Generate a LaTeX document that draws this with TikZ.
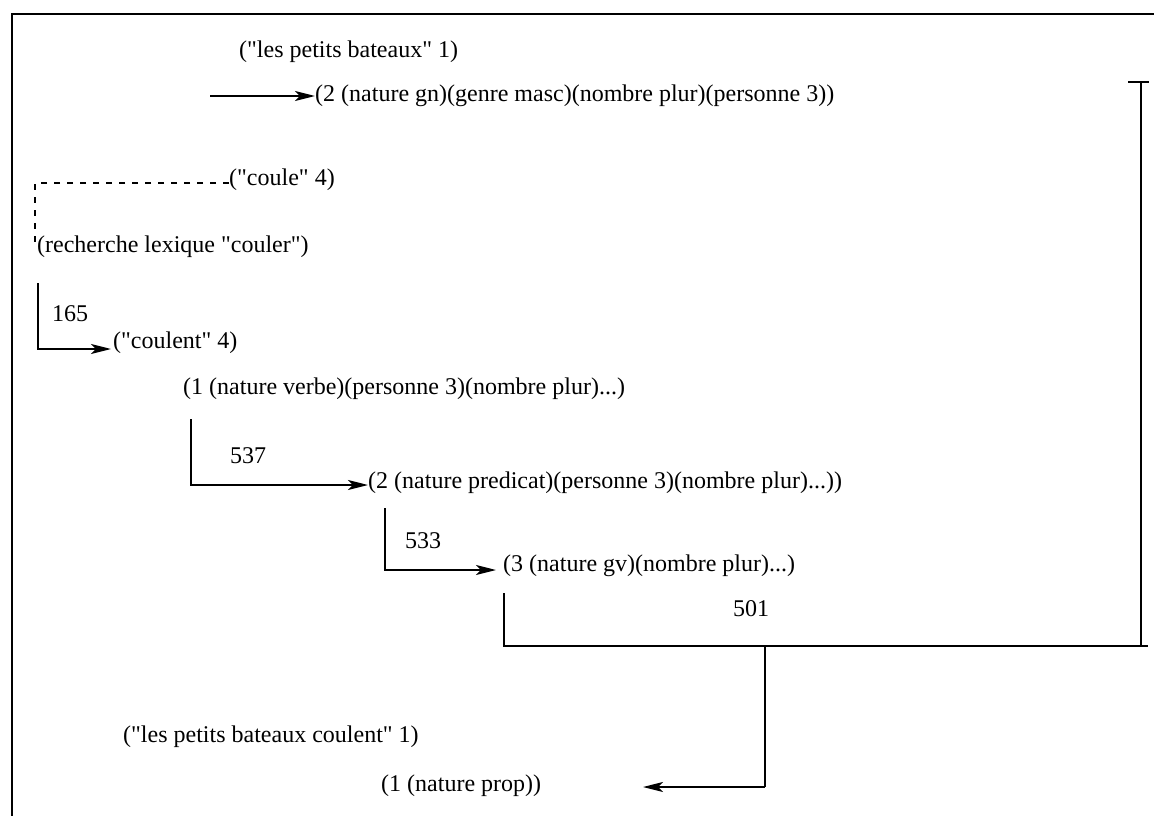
\documentclass[tikz,border=0pt]{standalone}
\usepackage{fontspec}
\setmainfont{Liberation Serif}[Ligatures=TeXOff]
\usetikzlibrary{arrows.meta}
\newcommand{\qq}{\symbol{34}}
\begin{document}
\begin{tikzpicture}[x=1pt,y=-1pt,
  txt/.style={anchor=west,inner sep=0pt,font=\fontsize{24}{28}\selectfont},
  conn/.style={line width=2pt},
  arr/.style={conn,-{Stealth[length=20pt,width=10pt,inset=5pt]}},
  frame/.style={line width=2.5pt}]
\useasboundingbox (0,0) rectangle (1154,816);
% frame
\draw[frame] (12,816) -- (12,14) -- (1154,14);
% text nodes
\node[txt] (t1) at (239,52) {(\qq les petits bateaux\qq{} 1)};
\node[txt] (t2) at (315,96) {(2 (nature gn)(genre masc)(nombre plur)(personne 3))};
\node[txt] (t3) at (229,180) {(\qq coule\qq{} 4)};
\node[txt] (t4) at (37,247) {(recherche lexique \qq couler\qq)};
\node[txt] (n165) at (52,314) {165};
\node[txt] (t5) at (113,343) {(\qq coulent\qq{} 4)};
\node[txt] (t6) at (183,389) {(1 (nature verbe)(personne 3)(nombre plur)...)};
\node[txt] (n537) at (230,456) {537};
\node[txt] (t7) at (368,483) {(2 (nature predicat)(personne 3)(nombre plur)...))};
\node[txt] (n533) at (405,541) {533};
\node[txt] (t8) at (503,566) {(3 (nature gv)(nombre plur)...)};
\node[txt] (n501) at (733,609) {501};
\node[txt] (t9) at (123,737) {(\qq les petits bateaux coulent\qq{} 1)};
\node[txt] (t10) at (381,786) {(1 (nature prop))};
% coordinates
\coordinate (a0) at (210,96);
\coordinate (d1) at (35,183);
\coordinate (d2) at (35,245);
\coordinate (c1) at (38,283);
\coordinate (c1e) at (111,349);
\coordinate (c2) at (191,419);
\coordinate (c2e) at (368,485);
\coordinate (c3) at (385,508);
\coordinate (c3e) at (496,570);
\coordinate (c4) at (504,593);
\coordinate (c4b) at (504,646);
\coordinate (r0) at (1148,646);
\coordinate (b0) at (1141,82);
\coordinate (b1) at (1128,82);
\coordinate (b2) at (1149,82);
\coordinate (m0) at (765,646);
\coordinate (m1) at (765,787);
\coordinate (m2) at (643,787);
% connectors
\draw[arr] (a0) -- (t2.west);
\draw[conn,dash pattern=on 6pt off 7pt] ([yshift=-3pt]t3.west) -- (d1) -- (d2);
\draw[arr] (c1) |- (c1e);
\draw[arr] (c2) |- (c2e);
\draw[arr] (c3) |- (c3e);
\draw[conn] (c4) -- (c4b) -- (r0);
\draw[conn] (b1) -- (b2);
\draw[conn] (b0) -- (r0 -| b0);
\draw[conn] (m0) -- (m1);
\draw[arr] (m1) -- (m2);
\end{tikzpicture}
\end{document}
